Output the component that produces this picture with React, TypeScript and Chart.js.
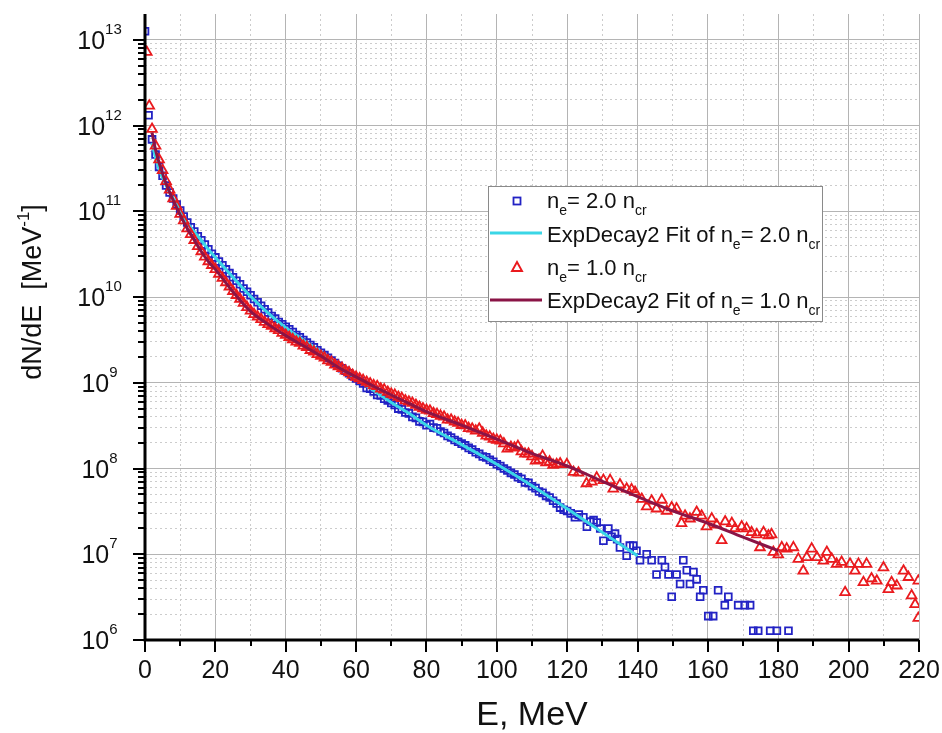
import React, { useEffect, useRef } from 'react';
import { Chart, registerables } from 'chart.js';

Chart.register(...registerables);

// ---------------- data (E in MeV, dN/dE in MeV^-1) ----------------
const blueData: [number, number][] = [
  [0, 1.26e13], [1, 1.32e12], [2, 6.9e11], [3, 4.6e11], [4, 3.3e11], [5, 2.6e11], [6, 2.0e11], [7, 1.66e11],
  [8, 1.41e11], [9, 1.2e11], [10, 1.02e11], [11, 8.7e10], [12, 7.4e10], [13, 6.5e10], [14, 5.8e10], [15, 5.1e10],
  [16, 4.6e10], [17, 4.1e10], [18, 3.6e10], [19, 3.2e10], [20, 2.9e10], [21, 2.6e10], [22, 2.35e10], [23, 2.1e10],
  [24, 1.9e10], [25, 1.7e10], [26, 1.55e10], [27, 1.41e10], [28, 1.26e10], [29, 1.15e10], [30, 1.05e10], [31, 9.5e9],
  [32, 8.7e9], [33, 7.9e9], [34, 7.2e9], [35, 6.6e9], [36, 6.0e9], [37, 5.6e9], [38, 5.1e9], [39, 4.8e9],
  [40, 4.5e9], [41, 4.2e9], [42, 3.9e9], [43, 3.6e9], [44, 3.4e9], [45, 3.16e9], [46, 2.95e9], [47, 2.75e9],
  [48, 2.6e9], [49, 2.4e9], [50, 2.24e9], [51, 2.1e9], [52, 1.95e9], [53, 1.82e9], [54, 1.7e9], [55, 1.58e9],
  [56, 1.48e9], [57, 1.38e9], [58, 1.29e9], [59, 1.2e9], [60, 1.12e9], [61, 1.05e9], [62, 9.8e8], [63, 8.7e8],
  [64, 8.5e8], [65, 7.9e8], [66, 7.2e8], [67, 7.1e8], [68, 6.5e8], [69, 6.2e8], [70, 5.8e8], [71, 5.5e8],
  [72, 5.0e8], [73, 4.9e8], [74, 4.5e8], [75, 4.4e8], [76, 4.0e8], [77, 3.9e8], [78, 3.55e8], [79, 3.5e8],
  [80, 3.2e8], [81, 3.3e8], [82, 3.0e8], [83, 2.95e8], [84, 2.7e8], [85, 2.6e8], [86, 2.4e8], [87, 2.3e8],
  [88, 2.15e8], [89, 2.05e8], [90, 1.95e8], [91, 1.86e8], [92, 1.74e8], [93, 1.66e8], [94, 1.55e8], [95, 1.48e8],
  [96, 1.38e8], [97, 1.35e8], [98, 1.26e8], [99, 1.2e8], [100, 1.12e8], [101, 1.07e8], [102, 1.0e8], [103, 9.5e7],
  [104, 8.9e7], [105, 8.5e7], [106, 7.9e7], [107, 7.6e7], [108, 6.9e7], [109, 6.8e7], [110, 6.2e7], [111, 5.9e7],
  [112, 5.4e7], [113, 5.2e7], [114, 4.8e7], [115, 4.6e7], [116, 4.2e7], [117, 3.9e7],
  [118, 3.5e7], [119, 3.3e7], [120, 3.2e7], [121, 3.0e7], [122.2, 2.7e7], [123.3, 2.9e7], [124.6, 2.7e7],
  [125.6, 2.1e7], [126.6, 2.4e7], [127.5, 2.5e7], [128.4, 2.35e7], [129.4, 2.0e7], [130.3, 1.44e7], [131.7, 2.0e7],
  [132.6, 1.6e7], [133.6, 1.74e7], [134.2, 1.5e7], [135.0, 1.2e7], [136.9, 9.6e6], [137.8, 1.26e7], [138.8, 1.26e7],
  [139.7, 1.1e7], [140.7, 8.5e6], [142.6, 1.0e7], [144.0, 8.5e6], [145.4, 5.8e6], [146.9, 8.5e6], [147.8, 7.1e6],
  [148.8, 5.8e6], [149.7, 3.2e6], [151.1, 5.8e6], [152.1, 4.5e6], [153.0, 8.5e6], [154.0, 6.5e6], [154.9, 4.5e6],
  [155.9, 6.2e6], [156.8, 5.1e6], [157.8, 3.2e6], [158.7, 3.8e6], [160.1, 1.9e6], [161.5, 1.9e6], [162.9, 3.8e6],
  [164.8, 2.55e6], [165.8, 3.2e6], [168.6, 2.55e6], [170.5, 2.55e6], [172.0, 2.55e6], [172.9, 1.28e6],
  [174.3, 1.28e6], [177.7, 1.28e6], [179.6, 1.28e6], [182.9, 1.28e6],
];

const redData: [number, number][] = [
  [0.5, 7.2e12], [1.2, 1.7e12], [2, 9.1e11], [3, 5.8e11], [4, 4.0e11], [5, 3.0e11], [6, 2.24e11], [7, 1.78e11],
  [8, 1.41e11], [9, 1.15e11], [10, 9.3e10], [11, 7.8e10], [12, 6.3e10], [13, 5.4e10], [14, 4.6e10], [15, 3.9e10],
  [16, 3.4e10], [17, 2.95e10], [18, 2.6e10], [19, 2.35e10], [20, 2.1e10], [21, 1.86e10], [22, 1.66e10], [23, 1.48e10],
  [24, 1.32e10], [25, 1.17e10], [26, 1.05e10], [27, 9.5e9], [28, 8.5e9], [29, 7.6e9], [30, 6.9e9], [31, 6.3e9],
  [32, 5.9e9], [33, 5.5e9], [34, 5.1e9], [35, 4.8e9], [36, 4.6e9], [37, 4.3e9], [38, 4.1e9], [39, 3.8e9],
  [40, 3.6e9], [41, 3.4e9], [42, 3.2e9], [43, 3.0e9], [44, 2.9e9], [45, 2.7e9], [46, 2.6e9], [47, 2.4e9],
  [48, 2.3e9], [49, 2.15e9], [50, 2.05e9], [51, 1.95e9], [52, 1.82e9], [53, 1.74e9], [54, 1.62e9], [55, 1.55e9],
  [56, 1.48e9], [57, 1.38e9], [58, 1.32e9], [59, 1.23e9], [60, 1.17e9], [61, 1.12e9], [62, 1.07e9], [63, 1.02e9],
  [64, 9.8e8], [65, 9.3e8], [66, 9.1e8], [67, 8.5e8], [68, 8.3e8], [69, 7.8e8], [70, 7.4e8], [71, 7.2e8],
  [72, 6.8e8], [73, 6.6e8], [74, 6.2e8], [75, 6.0e8], [76, 5.8e8], [77, 5.5e8], [78, 5.2e8], [79, 5.0e8],
  [80, 4.8e8], [81, 4.7e8], [82, 4.4e8], [83, 4.3e8], [84, 4.1e8], [85, 4.0e8], [86, 3.7e8], [87, 3.7e8],
  [88, 3.5e8], [89, 3.4e8], [90, 3.2e8], [91, 3.16e8], [92, 2.95e8], [93, 2.9e8], [94, 2.75e8], [95, 2.9e8],
  [96, 2.6e8], [97, 2.4e8], [98, 2.35e8], [99, 2.2e8], [100, 2.15e8], [101, 2.1e8], [102, 1.95e8], [103, 1.7e8],
  [104, 1.78e8], [105, 1.74e8], [106, 1.82e8], [107, 1.58e8], [108, 1.48e8], [109, 1.48e8], [110, 1.38e8],
  [111, 1.23e8], [112, 1.26e8], [113, 1.4e8], [114, 1.17e8], [115, 1.2e8], [116, 1.1e8], [117, 1.12e8],
  [118.0, 1.14e8], [119.9, 1.12e8], [121.8, 9.1e7], [123.2, 8.9e7], [125.5, 6.7e7], [127.0, 7.0e7], [128.4, 7.8e7],
  [130.3, 7.3e7], [132.2, 7.3e7], [133.1, 5.8e7], [135.0, 6.5e7], [136.9, 5.8e7], [138.3, 5.7e7], [139.3, 5.3e7],
  [141.2, 4.4e7], [142.6, 3.6e7], [144.0, 4.2e7], [145.4, 3.4e7], [146.9, 4.3e7], [148.3, 3.2e7], [149.7, 3.5e7],
  [151.1, 3.4e7], [152.5, 2.3e7], [153.5, 2.8e7], [154.9, 2.6e7], [156.8, 3.1e7], [158.2, 2.8e7], [159.6, 2.1e7],
  [161.1, 2.6e7], [162.5, 2.2e7], [163.9, 1.45e7], [164.9, 2.4e7], [166.8, 2.3e7], [167.7, 2.0e7], [169.6, 2.1e7],
  [171.0, 2.0e7], [172.4, 1.8e7], [173.9, 1.7e7], [174.8, 1.2e7], [175.8, 1.8e7], [177.2, 1.65e7], [178.1, 1.7e7],
  [178.6, 1.06e7], [180.0, 9.9e6], [181.0, 1.2e7], [182.4, 1.16e7], [184.3, 1.2e7], [185.7, 8.8e6], [187.1, 6.4e6],
  [188.1, 9.2e6], [189.5, 1.16e7], [191.0, 9.2e6], [192.8, 8.4e6], [193.8, 1.06e7], [195.2, 8.8e6], [196.6, 7.7e6],
  [198.0, 8.1e6], [199.0, 3.6e6], [200.4, 7.7e6], [201.8, 6.4e6], [202.8, 7.7e6], [204.2, 4.7e6], [205.1, 7.7e6],
  [206.5, 5.2e6], [208.0, 4.9e6], [209.9, 7.0e6], [211.3, 3.9e6], [212.2, 4.7e6], [213.7, 4.3e6], [215.6, 6.4e6],
  [217.0, 5.4e6], [217.9, 3.3e6], [218.9, 2.6e6], [219.8, 4.9e6], [219.8, 1.8e6],
];

const blueFit: [number, number][] = [
  [2, 6.3e11], [3, 4.2e11], [4, 3.1e11], [5, 2.45e11], [6, 2.0e11], [8, 1.41e11], [10, 1.02e11], [12, 7.4e10],
  [14, 5.75e10], [16, 4.6e10], [18, 3.6e10], [20, 2.9e10], [25, 1.7e10], [30, 1.02e10], [35, 6.5e9], [40, 4.4e9],
  [45, 3.16e9], [50, 2.3e9], [55, 1.58e9], [60, 1.12e9], [65, 8.1e8], [70, 5.9e8], [75, 4.4e8], [80, 3.2e8],
  [90, 1.9e8], [100, 1.12e8], [110, 6.3e7], [120, 3.4e7], [130, 1.8e7], [140, 9.6e6],
];

const redFit: [number, number][] = [
  [2, 8.3e11], [3, 5.2e11], [4, 3.7e11], [5, 2.75e11], [6, 2.1e11], [8, 1.35e11], [10, 9.1e10], [12, 6.3e10],
  [14, 4.6e10], [16, 3.4e10], [18, 2.6e10], [20, 2.1e10], [25, 1.15e10], [30, 6.8e9], [35, 4.8e9], [40, 3.55e9],
  [45, 2.7e9], [50, 2.05e9], [55, 1.51e9], [60, 1.17e9], [65, 9.1e8], [70, 7.2e8], [75, 5.75e8], [80, 4.6e8],
  [90, 3.2e8], [100, 2.2e8], [110, 1.5e8], [120, 1.07e8], [130, 7.1e7], [140, 4.7e7], [150, 3.2e7], [160, 2.3e7],
  [170, 1.58e7], [180, 1.1e7],
];

// ---------------- axes / labels ----------------
const xLabels = [0, 20, 40, 60, 80, 100, 120, 140, 160, 180, 200, 220];
const yExponents = [6, 7, 8, 9, 10, 11, 12, 13];
const yMinorMultipliers = [1, 2, 3, 4, 5, 6, 7, 8, 9];
const legendLabels = [
  'n_{e}= 2.0 n_{cr}',
  'ExpDecay2 Fit of n_{e}= 2.0 n_{cr}',
  'n_{e}= 1.0 n_{cr}',
  'ExpDecay2 Fit of n_{e}= 1.0 n_{cr}',
];
const xTitle = 'E, MeV';
const yTitle = 'dN/dE  [MeV^{-1}]';

const FONT = "'Liberation Sans', Arial, Helvetica, sans-serif";
const BLUE = '#2222c4';
const RED = '#ea1a1e';
const CYAN = '#3ad6e6';
const PURPLE = '#8a1446';
const GRID_MAJOR = '#b4b4b4';
const GRID_MINOR = '#cccccc';

const Y_MAX = 2e13;
const yTickValues: number[] = [];
yExponents.forEach((e) => yMinorMultipliers.forEach((m) => {
  const v = m * Math.pow(10, e);
  if (v < Y_MAX * 0.99) yTickValues.push(v);
}));

const isDecade = (v: number) => {
  const l = Math.log10(v);
  return Math.abs(l - Math.round(l)) < 1e-9;
};

function richParts(text: string) {
  return text.split(/[_^]\{([^}]*)\}/).map((t, i) => ({ t, small: i % 2 === 1 }));
}
function richWidth(ctx: CanvasRenderingContext2D, text: string, size: number, small: number) {
  let w = 0;
  richParts(text).forEach((p) => {
    ctx.font = `${p.small ? small : size}px ${FONT}`;
    w += ctx.measureText(p.t).width;
  });
  return w;
}
function drawRich(ctx: CanvasRenderingContext2D, text: string, x: number, y: number, size: number, small: number, shift: number) {
  richParts(text).forEach((p) => {
    ctx.font = `${p.small ? small : size}px ${FONT}`;
    ctx.fillText(p.t, x, p.small ? y + shift : y);
    x += ctx.measureText(p.t).width;
  });
}

const overlayPlugin = {
  id: 'originOverlay',
  afterDatasetsDraw(chart: any) {
    const { ctx, chartArea: ca, scales } = chart;
    const xs = scales.x;
    const ys = scales.y;
    ctx.save();
    ctx.strokeStyle = '#000';
    ctx.lineCap = 'butt';
    // tick marks
    ctx.lineWidth = 2;
    ys.ticks.forEach((t: any) => {
      const y = Math.round(ys.getPixelForValue(t.value));
      const len = isDecade(t.value) ? 12 : 7;
      ctx.beginPath();
      ctx.moveTo(ca.left - len, y);
      ctx.lineTo(ca.left, y);
      ctx.stroke();
    });
    xs.ticks.forEach((t: any) => {
      const x = Math.round(xs.getPixelForValue(t.value));
      const len = t.value % 20 === 0 ? 12 : 6;
      ctx.beginPath();
      ctx.moveTo(x, ca.bottom);
      ctx.lineTo(x, ca.bottom + len);
      ctx.stroke();
    });
    // axis lines
    ctx.lineWidth = 3;
    ctx.lineJoin = 'miter';
    ctx.beginPath();
    ctx.moveTo(ca.left, ca.top);
    ctx.lineTo(ca.left, ca.bottom);
    ctx.lineTo(ca.right, ca.bottom);
    ctx.stroke();

    // legend
    const lx = 488.5, ly = 186.5, lw = 334, lh = 135;
    ctx.fillStyle = '#fff';
    ctx.fillRect(lx, ly, lw, lh);
    ctx.strokeStyle = '#8a8a8a';
    ctx.lineWidth = 1;
    ctx.strokeRect(lx, ly, lw, lh);
    const baselines = [208, 242, 275, 308];
    const textX = 547;
    const mx = 517;
    // row 1: square
    ctx.strokeStyle = BLUE;
    ctx.lineWidth = 1.8;
    ctx.strokeRect(mx - 3.5, baselines[0] - 10.5, 7, 7);
    // row 2: cyan line
    ctx.strokeStyle = CYAN;
    ctx.lineWidth = 3;
    ctx.beginPath(); ctx.moveTo(490, baselines[1] - 9); ctx.lineTo(542, baselines[1] - 9); ctx.stroke();
    // row 3: triangle
    ctx.strokeStyle = RED;
    ctx.lineWidth = 1.9;
    const ty = baselines[2] - 8;
    ctx.beginPath();
    ctx.moveTo(mx, ty - 5); ctx.lineTo(mx + 5, ty + 4); ctx.lineTo(mx - 5, ty + 4); ctx.closePath(); ctx.stroke();
    // row 4: purple line
    ctx.strokeStyle = PURPLE;
    ctx.lineWidth = 3;
    ctx.beginPath(); ctx.moveTo(490, baselines[3] - 8); ctx.lineTo(542, baselines[3] - 8); ctx.stroke();
    ctx.fillStyle = '#111';
    ctx.textBaseline = 'alphabetic';
    ctx.textAlign = 'left';
    legendLabels.forEach((lab, i) => drawRich(ctx, lab, textX, baselines[i], 22, 14, 7));
    ctx.restore();
  },
  afterDraw(chart: any) {
    const { ctx, scales } = chart;
    const ys = scales.y;
    ctx.save();
    ctx.fillStyle = '#111';
    ctx.textAlign = 'left';
    ctx.textBaseline = 'alphabetic';
    // y tick labels 10^n
    yExponents.forEach((e) => {
      const y = ys.getPixelForValue(Math.pow(10, e));
      const txt = `10^{${e}}`;
      const w = richWidth(ctx, txt, 25, 15) + 1;
      drawRich(ctx, txt, 100 - w / 2, y + 9, 25, 15, -15);
    });
    // y title (rotated)
    const size = 27;
    const w = richWidth(ctx, yTitle, size, 17);
    ctx.translate(31, 292);
    ctx.rotate(-Math.PI / 2);
    drawRich(ctx, yTitle, -w / 2, 10, size, 17, -12);
    ctx.restore();
  },
};

export default function App() {
  const canvasRef = useRef<HTMLCanvasElement | null>(null);

  useEffect(() => {
    const canvas = canvasRef.current;
    if (!canvas) return;
    const toXY = (arr: [number, number][]) => arr.map(([x, y]) => ({ x, y }));
    const chart = new Chart(canvas, {
      type: 'scatter',
      data: {
        datasets: [
          {
            label: 'n_e = 2.0 n_cr',
            data: toXY(blueData),
            showLine: false,
            pointStyle: 'rect',
            pointRadius: 4.8,
            pointBorderWidth: 1.8,
            borderColor: BLUE,
            backgroundColor: 'rgba(0,0,0,0)',
            pointBorderColor: BLUE,
            pointBackgroundColor: 'rgba(0,0,0,0)',
            order: 4,
          },
          {
            label: 'ExpDecay2 Fit of n_e = 2.0 n_cr',
            data: toXY(blueFit),
            showLine: true,
            pointRadius: 0,
            borderColor: CYAN,
            borderWidth: 3,
            cubicInterpolationMode: 'monotone',
            order: 3,
          },
          {
            label: 'n_e = 1.0 n_cr',
            data: toXY(redData),
            showLine: false,
            pointStyle: 'triangle',
            pointRadius: 5.6,
            pointBorderWidth: 1.8,
            borderColor: RED,
            backgroundColor: 'rgba(0,0,0,0)',
            pointBorderColor: RED,
            pointBackgroundColor: 'rgba(0,0,0,0)',
            order: 2,
          },
          {
            label: 'ExpDecay2 Fit of n_e = 1.0 n_cr',
            data: toXY(redFit),
            showLine: true,
            pointRadius: 0,
            borderColor: PURPLE,
            borderWidth: 3,
            cubicInterpolationMode: 'monotone',
            order: 1,
          },
        ],
      } as any,
      options: {
        animation: false,
        responsive: false,
        maintainAspectRatio: false,
        layout: { padding: { left: 0, top: 14, right: 23, bottom: 0 } },
        plugins: { legend: { display: false }, tooltip: { enabled: false } },
        scales: {
          x: {
            type: 'linear',
            min: 0,
            max: 220,
            afterFit: (s: any) => {
              s.height = 93;
              s.paddingLeft = 0;
              s.paddingRight = 0;
            },
            border: {
              display: false,
              dash: (c: any) => (c.tick && c.tick.value % 20 !== 0 ? [2, 3] : []),
            },
            grid: {
              drawTicks: false,
              lineWidth: 1,
              color: (c: any) => (c.tick && c.tick.value % 20 === 0 ? GRID_MAJOR : GRID_MINOR),
            },
            ticks: {
              stepSize: 10,
              autoSkip: false,
              maxRotation: 0,
              padding: 16,
              color: '#111',
              font: { family: FONT, size: 25 },
              callback: (v: any) => (xLabels.includes(Number(v)) ? String(v) : ''),
            },
            title: {
              display: true,
              text: xTitle,
              color: '#111',
              font: { family: FONT, size: 34, lineHeight: 1 },
              padding: 0,
            },
          },
          y: {
            type: 'logarithmic',
            min: 1e6,
            max: Y_MAX,
            afterFit: (s: any) => {
              s.width = 145;
              s.paddingTop = 0;
              s.paddingBottom = 0;
            },
            afterBuildTicks: (s: any) => { s.ticks = yTickValues.map((v) => ({ value: v })); },
            border: {
              display: false,
              dash: (c: any) => (c.tick && !isDecade(c.tick.value) ? [2, 3] : []),
            },
            grid: {
              drawTicks: false,
              lineWidth: 1,
              color: (c: any) => (c.tick && isDecade(c.tick.value) ? GRID_MAJOR : GRID_MINOR),
            },
            ticks: { display: false },
          },
        },
      } as any,
      plugins: [overlayPlugin],
    });
    return () => chart.destroy();
  }, []);

  return (
    <canvas
      ref={canvasRef}
      width={942}
      height={733}
      style={{ position: 'absolute', left: 0, top: 0, display: 'block', width: 942, height: 733 }}
    />
  );
}
